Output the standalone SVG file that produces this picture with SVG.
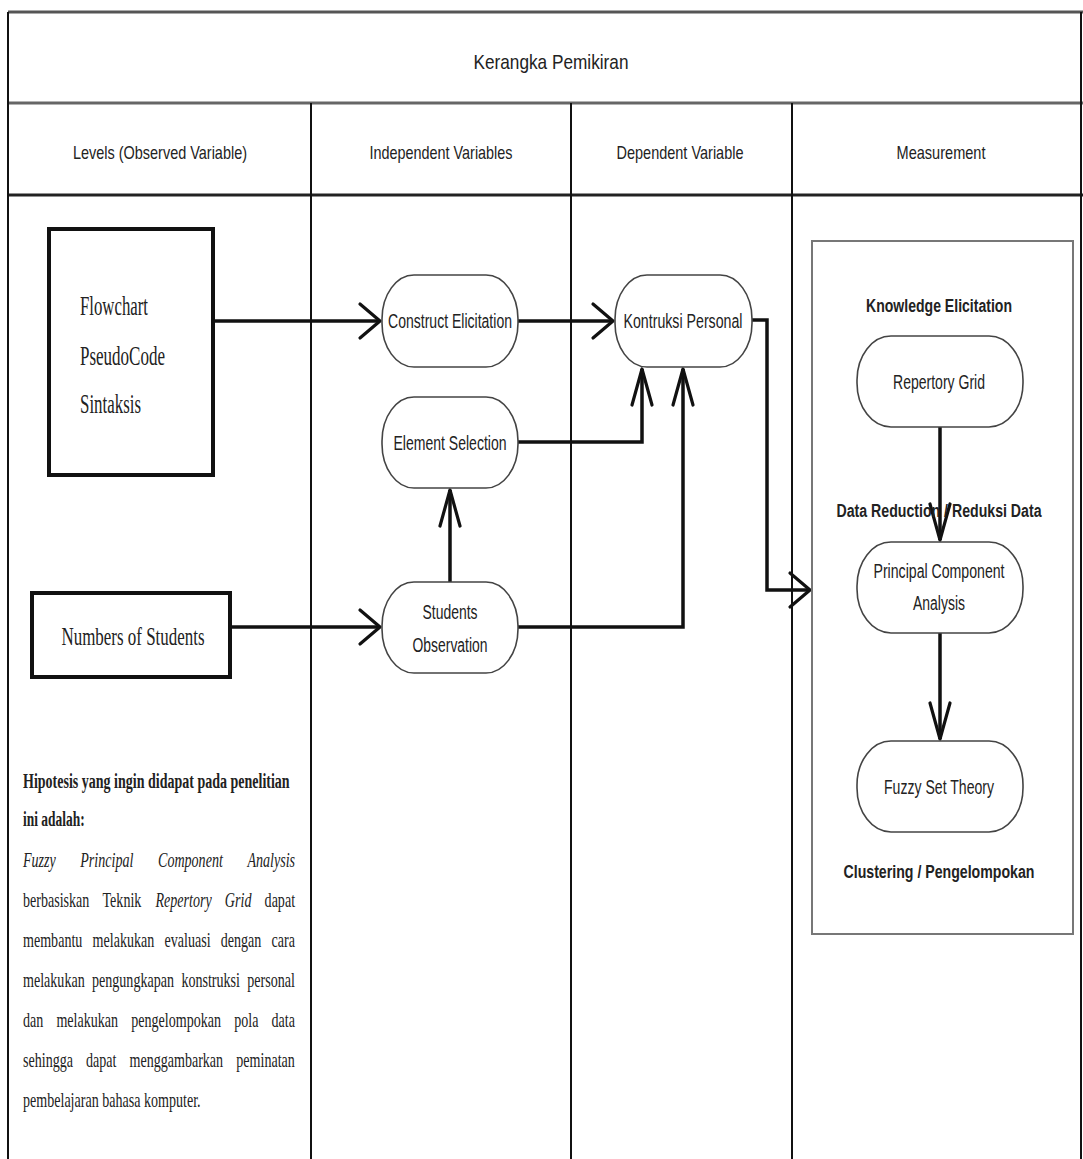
<svg xmlns="http://www.w3.org/2000/svg" width="1083" height="1159" viewBox="0 0 1083 1159">
<defs>
<style>
.sans{font-family:"Liberation Sans",Arial,sans-serif;fill:#222}
.serif{font-family:"Liberation Serif","Times New Roman",serif;fill:#222}
.pill{fill:#fff;stroke:#444;stroke-width:1.6}
.box{fill:#fff;stroke:#111;stroke-width:4}
.lane{stroke:#111;stroke-width:2;fill:none}
.con{fill:none;stroke:#111;stroke-width:3.5}
.ah{fill:none;stroke:#111;stroke-width:3.2;stroke-linecap:round;stroke-linejoin:round}
</style>
<marker id="ahH" markerUnits="userSpaceOnUse" markerWidth="24" markerHeight="40" refX="20" refY="17" orient="auto" overflow="visible">
<path class="ah" d="M0,0 L20,17 L0,34"/>
</marker>
<marker id="ahV" markerUnits="userSpaceOnUse" markerWidth="40" markerHeight="24" refX="36" refY="10" orient="auto" overflow="visible">
<path class="ah" d="M0,0 L36,10 L0,20"/>
</marker>
</defs>
<rect width="1083" height="1159" fill="#fff"/>

<g id="frame">
<line x1="8" y1="12" x2="1083" y2="12" stroke="#555" stroke-width="3"/>
<line x1="8" y1="103" x2="1083" y2="103" stroke="#666" stroke-width="3"/>
<line x1="8" y1="195" x2="1083" y2="195" stroke="#222" stroke-width="3"/>
<line class="lane" x1="8" y1="12" x2="8" y2="1159"/>
<line class="lane" x1="311" y1="103" x2="311" y2="1159"/>
<line class="lane" x1="571" y1="103" x2="571" y2="1159"/>
<line class="lane" x1="792" y1="103" x2="792" y2="1159"/>
<line class="lane" x1="1081" y1="12" x2="1081" y2="1159"/>
<text class="sans" x="551" y="69" font-size="21" text-anchor="middle" textLength="155" lengthAdjust="spacingAndGlyphs">Kerangka Pemikiran</text>
<text class="sans" x="160" y="159" font-size="19" text-anchor="middle" textLength="174" lengthAdjust="spacingAndGlyphs">Levels (Observed Variable)</text>
<text class="sans" x="441" y="159" font-size="19" text-anchor="middle" textLength="143" lengthAdjust="spacingAndGlyphs">Independent Variables</text>
<text class="sans" x="680" y="159" font-size="19" text-anchor="middle" textLength="127" lengthAdjust="spacingAndGlyphs">Dependent Variable</text>
<text class="sans" x="941" y="159" font-size="19" text-anchor="middle" textLength="89" lengthAdjust="spacingAndGlyphs">Measurement</text>
</g>

<g id="connectors">
<path class="con" d="M213,321 H380" marker-end="url(#ahH)"/>
<path class="con" d="M230,627 H380" marker-end="url(#ahH)"/>
<path class="con" d="M518,321 H613" marker-end="url(#ahH)"/>
<path class="con" d="M518,442 H642 V369" marker-end="url(#ahV)"/>
<path class="con" d="M518,627 H683 V369" marker-end="url(#ahV)"/>
<path class="con" d="M450,582 V490" marker-end="url(#ahV)"/>
<path class="con" d="M752,320 H767 V590 H810" marker-end="url(#ahH)"/>
<path class="con" d="M940,427 V540" stroke-width="3" marker-end="url(#ahV)"/>
<path class="con" d="M940,633 V739" stroke-width="3" marker-end="url(#ahV)"/>
</g>

<g id="flowchart">
<rect class="box" x="49" y="229" width="164" height="246"/>
<text class="serif" font-size="27"><tspan x="80" y="315" textLength="68" lengthAdjust="spacingAndGlyphs">Flowchart</tspan></text>
<text class="serif" font-size="27"><tspan x="80" y="365" textLength="85" lengthAdjust="spacingAndGlyphs">PseudoCode</tspan></text>
<text class="serif" font-size="27"><tspan x="80" y="413" textLength="61" lengthAdjust="spacingAndGlyphs">Sintaksis</tspan></text>
</g>

<g id="numbers-of-students">
<rect class="box" x="32" y="593" width="198" height="84"/>
<text class="serif" x="133" y="645" font-size="26" text-anchor="middle" textLength="143" lengthAdjust="spacingAndGlyphs">Numbers of Students</text>
</g>

<g id="construct-elicitation">
<rect class="pill" x="382" y="275" width="136" height="92" rx="32" ry="44"/>
<text class="sans" x="450" y="328" font-size="20" text-anchor="middle" textLength="124" lengthAdjust="spacingAndGlyphs">Construct Elicitation</text>
</g>

<g id="element-selection">
<rect class="pill" x="382" y="397" width="136" height="91" rx="32" ry="44"/>
<text class="sans" x="450" y="450" font-size="20" text-anchor="middle" textLength="113" lengthAdjust="spacingAndGlyphs">Element Selection</text>
</g>

<g id="students-observation">
<rect class="pill" x="382" y="582" width="136" height="91" rx="32" ry="44"/>
<text class="sans" x="450" y="619" font-size="20" text-anchor="middle" textLength="55" lengthAdjust="spacingAndGlyphs">Students</text>
<text class="sans" x="450" y="652" font-size="20" text-anchor="middle" textLength="75" lengthAdjust="spacingAndGlyphs">Observation</text>
</g>

<g id="kontruksi-personal">
<rect class="pill" x="615" y="275" width="137" height="92" rx="32" ry="44"/>
<text class="sans" x="683" y="328" font-size="20" text-anchor="middle" textLength="119" lengthAdjust="spacingAndGlyphs">Kontruksi Personal</text>
</g>

<g id="measurement">
<rect x="812" y="241" width="261" height="693" fill="none" stroke="#777" stroke-width="2"/>
<text class="sans" x="939" y="312" font-size="18" font-weight="bold" text-anchor="middle" textLength="146" lengthAdjust="spacingAndGlyphs">Knowledge Elicitation</text>
<text class="sans" x="939" y="517" font-size="18" font-weight="bold" text-anchor="middle" textLength="205" lengthAdjust="spacingAndGlyphs">Data Reduction / Reduksi Data</text>
<text class="sans" x="939" y="878" font-size="18" font-weight="bold" text-anchor="middle" textLength="191" lengthAdjust="spacingAndGlyphs">Clustering / Pengelompokan</text>
</g>

<g id="repertory-grid">
<rect class="pill" x="857" y="336" width="166" height="91" rx="34" ry="44"/>
<text class="sans" x="939" y="389" font-size="20" text-anchor="middle" textLength="92" lengthAdjust="spacingAndGlyphs">Repertory Grid</text>
</g>

<g id="pca">
<rect class="pill" x="857" y="542" width="166" height="91" rx="34" ry="44"/>
<text class="sans" x="939" y="578" font-size="20" text-anchor="middle" textLength="131" lengthAdjust="spacingAndGlyphs">Principal Component</text>
<text class="sans" x="939" y="610" font-size="20" text-anchor="middle" textLength="52" lengthAdjust="spacingAndGlyphs">Analysis</text>
</g>

<g id="fuzzy-set-theory">
<rect class="pill" x="857" y="741" width="166" height="91" rx="34" ry="44"/>
<text class="sans" x="939" y="794" font-size="20" text-anchor="middle" textLength="110" lengthAdjust="spacingAndGlyphs">Fuzzy Set Theory</text>
</g>

<g id="hipotesis" transform="translate(23 0) scale(0.67 1)">
<text class="serif" font-size="21" font-weight="bold" x="0" y="788" textLength="398" lengthAdjust="spacingAndGlyphs">Hipotesis yang ingin didapat pada penelitian</text>
<text class="serif" font-size="21" font-weight="bold" x="0" y="826" textLength="92" lengthAdjust="spacingAndGlyphs">ini adalah:</text>
<text class="serif" font-size="21" y="867" font-style="italic"><tspan x="0">Fuzzy</tspan><tspan x="85.5">Principal</tspan><tspan x="201.5">Component</tspan><tspan x="335">Analysis</tspan></text>
<text class="serif" font-size="21" y="907"><tspan x="0">berbasiskan</tspan><tspan x="118.7">Teknik</tspan><tspan x="197.8" font-style="italic">Repertory</tspan><tspan x="301.3" font-style="italic">Grid</tspan><tspan x="360.6">dapat</tspan></text>
<text class="serif" font-size="21" y="947"><tspan x="0">membantu</tspan><tspan x="103.9">melakukan</tspan><tspan x="211.2">evaluasi</tspan><tspan x="295.2">dengan</tspan><tspan x="371">cara</tspan></text>
<text class="serif" font-size="21" y="987"><tspan x="0">melakukan</tspan><tspan x="103">pengungkapan</tspan><tspan x="236.4">konstruksi</tspan><tspan x="334.8">personal</tspan></text>
<text class="serif" font-size="21" y="1027"><tspan x="0">dan</tspan><tspan x="49.9">melakukan</tspan><tspan x="161.5">pengelompokan</tspan><tspan x="315.2">pola</tspan><tspan x="370.9">data</tspan></text>
<text class="serif" font-size="21" y="1067"><tspan x="0">sehingga</tspan><tspan x="94">dapat</tspan><tspan x="158.9">menggambarkan</tspan><tspan x="318.4">peminatan</tspan></text>
<text class="serif" font-size="21" x="0" y="1107">pembelajaran bahasa komputer.</text>
</g>
</svg>
